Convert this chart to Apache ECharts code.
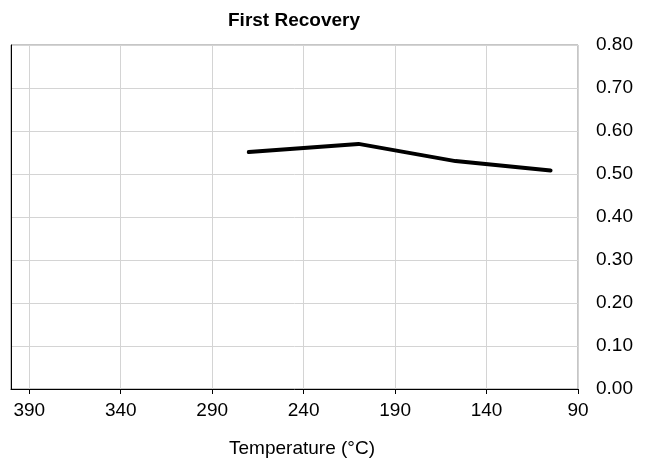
<!DOCTYPE html>
<html><head><meta charset="utf-8">
<script src="https://cdn.jsdelivr.net/npm/echarts@6/dist/echarts.min.js"></script>
<style>html,body{margin:0;padding:0;background:#fff}#c{width:648px;height:463px}</style>
</head><body><div id="c"></div>
<script>
const temperatures = [270, 210, 157, 105];
const recovery = [0.551, 0.570, 0.530, 0.508];
const titleText = 'First Recovery';
const xName = 'Temperature (°C)';

const chart = echarts.init(document.getElementById('c'), null, {renderer: 'canvas'});
const font = 'Liberation Sans, Arial, sans-serif';
chart.setOption({
  animation: false,
  backgroundColor: '#fff',
  title: {text: titleText, left: 289, top: 6, textAlign: 'center',
    textStyle: {fontFamily: font, fontSize: 19, fontWeight: 'bold', color: '#000'}},
  grid: {left: 11, right: 70, top: 45, bottom: 73, show: true, borderColor: '#8c8c8c', borderWidth: 1},
  xAxis: {type: 'value', min: 90, max: 400, interval: 50, inverse: true,
    name: xName, nameLocation: 'middle', nameGap: 50,
    nameTextStyle: {fontFamily: font, fontSize: 19, color: '#000', padding: [0, 0, 0, 15]},
    axisLine: {show: true, onZero: false, lineStyle: {color: '#000', width: 1}},
    axisTick: {show: true, length: 5, lineStyle: {color: '#000'}},
    axisLabel: {showMaxLabel: false, showMinLabel: true, margin: 12, fontFamily: font, fontSize: 19, color: '#000'},
    splitLine: {show: true, lineStyle: {color: '#d4d4d4', width: 1}}},
  yAxis: [{type: 'value', position: 'right', min: 0, max: 0.8, interval: 0.1,
    axisLine: {show: false}, axisTick: {show: false},
    axisLabel: {margin: 18, fontFamily: font, fontSize: 19, color: '#000', formatter: v => v.toFixed(2)},
    splitLine: {show: true, lineStyle: {color: '#d4d4d4', width: 1}}},
    {type: 'value', position: 'left', min: 0, max: 0.8, interval: 0.1,
    axisLine: {show: true, lineStyle: {color: '#000'}}, axisTick: {show: false},
    axisLabel: {show: false}, splitLine: {show: false}}],
  series: [{type: 'line', data: temperatures.map((t, i) => [t, recovery[i]]),
    symbol: 'none', lineStyle: {color: '#000', width: 4, cap: 'round', join: 'round'}}]
});
</script></body></html>
